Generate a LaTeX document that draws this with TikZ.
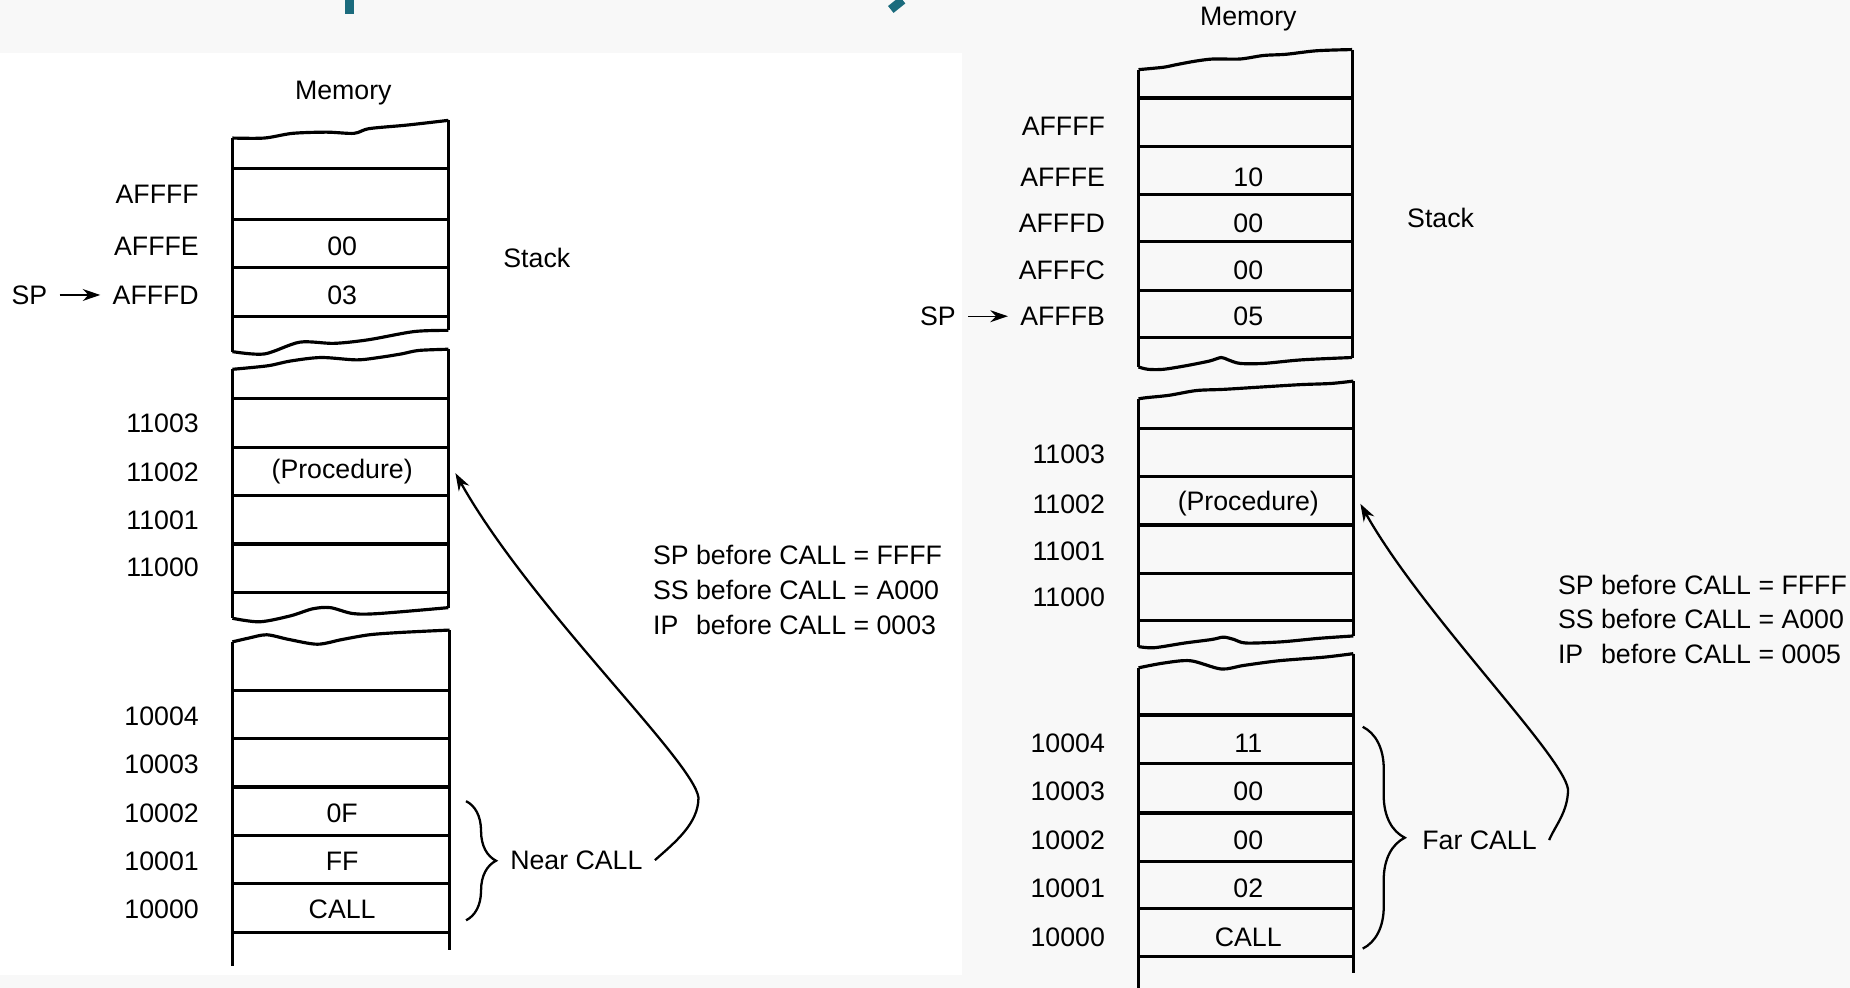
\documentclass[tikz,border=0pt]{standalone}
\usepackage{fontspec}
\setmainfont{Liberation Sans}
\usetikzlibrary{arrows.meta,decorations.pathreplacing}

\definecolor{titleteal}{HTML}{1B6B7D}
\definecolor{patterngray}{gray}{0.972}

\begin{document}
\begin{tikzpicture}[x=0.0118cm, y=-0.0118cm, >={Stealth[length=5pt,width=3.4pt]},
    font=\fontsize{7.6}{9.9}\selectfont,
    col/.style={line width=0.9pt},
    addr/.style={anchor=east},
    callbrace/.style={decorate, decoration={brace, amplitude=#1}, line width=0.65pt},
    link/.style={->, line width=0.65pt}]
    \useasboundingbox (0,0) rectangle (1568,837);

    % Background
    \fill[patterngray] (0,0) rectangle (1568,837);
    \fill[white] (0,45) rectangle (815,826);
    \fill[titleteal] (292,0) rectangle (300,12);
    \draw[titleteal, line width=2.5pt] (765,0) -- (755,8);

    % ---------------- Near CALL ----------------
    \node (nmem) at (291,79) {Memory};
    % stack block
    \draw[col] (197,117) -- (197,298);
    \draw[col] (380,102) -- (380,280);
    \draw[col] plot[smooth] coordinates {(197,117) (224,117) (248,113) (277,112) (300,113) (313,109) (345,106) (380,102)};
    \draw[col] plot[smooth] coordinates {(197,298) (224,300) (254,290) (283,291) (312,288) (351,281) (380,280)};
    \foreach \y in {143,186,227,268} \draw[col] (197,\y) -- (380,\y);
    % procedure block
    \draw[col] (197,313) -- (197,524);
    \draw[col] (380,296) -- (380,515);
    \draw[col] plot[smooth] coordinates {(197,313) (227,310) (246,306) (272,303) (302,305) (321,303) (340,300) (355,297) (380,296)};
    \draw[col] plot[smooth] coordinates {(197,524) (220,527) (246,522) (265,516) (280,515) (299,520) (321,520) (380,515)};
    \foreach \y in {338,379,420,461,502} \draw[col] (197,\y) -- (380,\y);
    % code block
    \draw[col] (197,544) -- (197,819);
    \draw[col] (381,534) -- (381,805);
    \draw[col] plot[smooth] coordinates {(197,544) (210,541) (226,538) (245,542) (269,546) (290,542) (313,538) (340,536) (381,534)};
    \foreach \y in {585,626,667,708,749,790} \draw[col] (197,\y) -- (381,\y);

    % addresses and contents
    \foreach \a/\y in {AFFFF/165, AFFFE/209, AFFFD/250, 11003/359, 11002/400, 11001/441, 11000/481,
                       10004/607, 10003/648, 10002/689, 10001/730, 10000/771}
        \node[addr] (n\a) at (179,\y) {\a};
    \coordinate (ncol) at (290,0);
    \foreach \a/\v in {AFFFE/00, AFFFD/03, 11002/{(Procedure)}, 10002/0F, 10001/FF, 10000/CALL}
        \node (nv\a) at (ncol |- n\a) {\v};

    \node (nsp) at (25,250) {SP};
    \draw[->] (nsp) -- (nAFFFD);
    \node (nstack) at (455,219) {Stack};

    \draw[callbrace=0.3cm] (395,679) -- (395,780);
    \node[anchor=west] (ncall) at (422,729) {Near CALL};
    \coordinate (nbend) at (592,676);
    \coordinate (ntip) at (386,401);
    \draw[link] (ncall.east) .. controls (572,714) and (592,698) .. (nbend)
        .. controls (588,645) and (450,515) .. (ntip);

    \node[anchor=west, align=left] (nregs) at (543,500) {SP before CALL = FFFF\\SS before CALL = A000\\\rlap{IP}\phantom{SP} before CALL = 0003};

    % ---------------- Far CALL ----------------
    \node (fmem) at (1058,16) {Memory};
    % stack block
    \draw[col] (965,59) -- (965,311);
    \draw[col] (1146,42) -- (1146,303);
    \draw[col] plot[smooth] coordinates {(965,59) (986,57) (996,55) (1012,52) (1028,50) (1051,50) (1071,47) (1090,46) (1116,43) (1146,42)};
    \draw[col] plot[smooth] coordinates {(965,311) (973,313) (986,313) (1005,310) (1025,306) (1035,303) (1041,305) (1051,308) (1071,308) (1103,305) (1146,303)};
    \foreach \y in {83,124,165,205,246,286} \draw[col] (965,\y) -- (1146,\y);
    % procedure block
    \draw[col] (965,338) -- (965,548);
    \draw[col] (1147,323) -- (1147,539);
    \draw[col] plot[smooth] coordinates {(965,338) (972,337) (991,335) (1014,331) (1037,330) (1069,328) (1102,326) (1128,325) (1147,323)};
    \draw[col] plot[smooth] coordinates {(965,548) (978,549) (1004,545) (1027,542) (1037,540) (1046,542) (1056,545) (1086,544) (1118,541) (1147,539)};
    \foreach \y in {363,404,445,486,526} \draw[col] (965,\y) -- (1147,\y);
    % code block
    \draw[col] (965,566) -- (965,837);
    \draw[col] (1147,554) -- (1147,825);
    \draw[col] plot[smooth] coordinates {(965,566) (986,562) (1009,560) (1035,567) (1054,564) (1084,560) (1122,557) (1147,554)};
    \foreach \y in {606,647,689,730,770,811} \draw[col] (965,\y) -- (1147,\y);

    % addresses and contents
    \foreach \a/\y in {AFFFF/107, AFFFE/150, AFFFD/189, AFFFC/229, AFFFB/268, 11003/385, 11002/427, 11001/467, 11000/506,
                       10004/630, 10003/671, 10002/712, 10001/753, 10000/794}
        \node[addr] (f\a) at (947,\y) {\a};
    \coordinate (fcol) at (1058,0);
    \foreach \a/\v in {AFFFE/10, AFFFD/00, AFFFC/00, AFFFB/05, 11002/{(Procedure)}, 10004/11, 10003/00, 10002/00, 10001/02, 10000/CALL}
        \node (fv\a) at (fcol |- f\a) {\v};

    \node (fsp) at (795,268) {SP};
    \draw[->] (fsp) -- (fAFFFB);
    \node (fstack) at (1221,185) {Stack};

    \draw[callbrace=0.42cm] (1155,616) -- (1155,804);
    \node[anchor=west] (fcall) at (1195,712) {Far CALL};
    \coordinate (fbend) at (1329,669);
    \coordinate (ftip) at (1153,427);
    \draw[link] (fcall.east) .. controls (1318,700) and (1329,688) .. (fbend)
        .. controls (1325,640) and (1205,520) .. (ftip);

    \node[anchor=west, align=left] (fregs) at (1310,525) {SP before CALL = FFFF\\SS before CALL = A000\\\rlap{IP}\phantom{SP} before CALL = 0005};
\end{tikzpicture}
\end{document}
